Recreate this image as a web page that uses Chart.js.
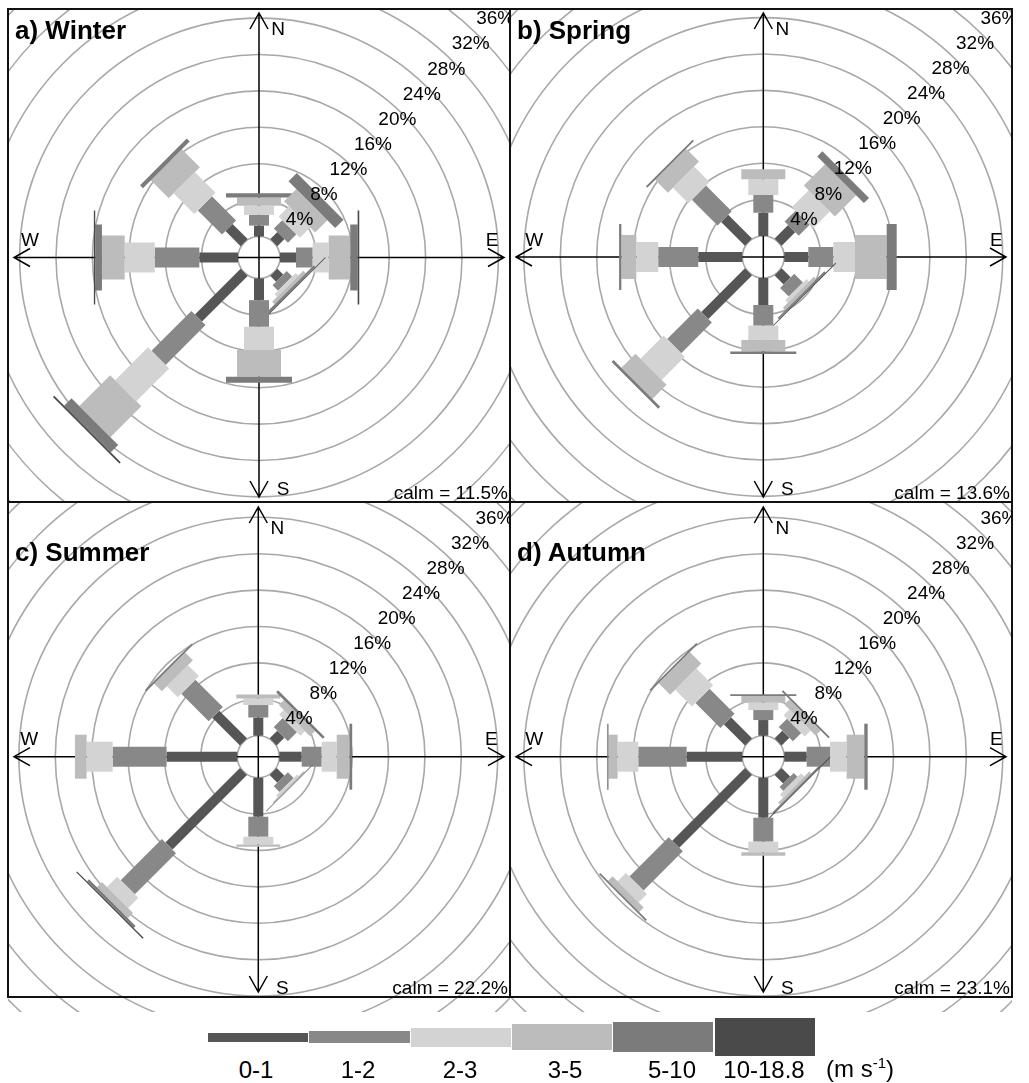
<!DOCTYPE html>
<html>
<head>
<meta charset="utf-8">
<script src="https://cdn.jsdelivr.net/npm/chart.js@4.4.1/dist/chart.umd.min.js"></script>
<style>
  body { margin: 0; background: #fff; }
  #page { position: relative; width: 1029px; height: 1083px; overflow: hidden;
          font-family: 'Liberation Sans', Arial, sans-serif; color: #000; }
  canvas { position: absolute; }
  .title { position: absolute; font-weight: bold; font-size: 26px; line-height: 1; white-space: nowrap; }
  .calm { position: absolute; font-size: 19px; line-height: 1; white-space: nowrap; transform: translate(-100%, -50%); }
  .rule { position: absolute; background: #111; }
  .key { position: absolute; }
  .keylab { position: absolute; font-size: 24px; line-height: 1; white-space: nowrap; transform: translate(-50%, -50%); }
</style>
</head>
<body>
<div id="page"></div>
<script>
// speed classes (m/s) and directions, clockwise from north
const speedClasses = ['0-1', '1-2', '2-3', '3-5', '5-10', '10-18.8'];
const directions = ['N', 'NE', 'E', 'SE', 'S', 'SW', 'W', 'NW'];
const ringTicks = [4, 8, 12, 16, 20, 24, 28, 32, 36];
const seasons = ['a) Winter', 'b) Spring', 'c) Summer', 'd) Autumn'];
const calmPct = [11.5, 13.6, 22.2, 23.1];

// frequency (%) per direction, one value per speed class
const winter = [
  [1.2, 1.18, 0.99, 0.92, 0.47, 0],
  [1.1, 1.3, 1.6, 1.9, 1.3, 0],
  [1.76, 1.83, 1.76, 2.37, 0.81, 0.18],
  [0.9, 0.85, 0.4, 0.4, 0.25, 0.1],
  [2.38, 2.93, 2.56, 2.93, 0.66, 0],
  [7.1, 6.2, 5.1, 4.8, 1.15, 0.2],
  [4.25, 4.9, 3.3, 2.5, 0.74, 0.15],
  [2.35, 3.75, 3.2, 2.8, 0.45, 0],
];
const spring = [
  [2.56, 1.95, 1.73, 1.1, 0, 0],
  [2.1, 1.7, 2.6, 3.3, 0.8, 0],
  [2.64, 2.75, 2.38, 3.48, 1.1, 0],
  [1.4, 1.35, 0.4, 0.4, 0.2, 0.1],
  [2.97, 2.27, 1.57, 1.28, 0.25, 0],
  [6.78, 4.76, 3.6, 2.2, 0.3, 0],
  [4.84, 4.4, 2.4, 1.65, 0.25, 0],
  [3.7, 4.0, 2.4, 2.0, 0.2, 0],
];
const summer = [
  [2.0, 1.37, 0.73, 0.44, 0, 0],
  [1.19, 1.4, 0.7, 0.8, 0.3, 0],
  [2.46, 2.2, 1.65, 1.4, 0.3, 0],
  [1.19, 0.9, 0.25, 0.15, 0.1, 0],
  [4.29, 2.2, 0.85, 0.25, 0, 0],
  [11.58, 6.4, 1.6, 0.8, 0.3, 0.15],
  [7.77, 5.93, 2.86, 1.28, 0, 0],
  [4.3, 4.27, 1.7, 1.2, 0.2, 0],
];
const autumn = [
  [1.72, 1.1, 0.8, 0.73, 0.2, 0],
  [1.19, 1.3, 0.9, 0.8, 0.2, 0],
  [2.46, 2.56, 1.83, 1.94, 0.37, 0],
  [1.32, 0.6, 0.5, 0.3, 0.15, 0.1],
  [4.4, 2.63, 1.17, 0.37, 0, 0],
  [11.3, 6.1, 1.3, 0.7, 0.2, 0],
  [6.12, 5.31, 2.27, 1.0, 0.15, 0],
  [3.26, 3.88, 2.6, 1.8, 0.2, 0],
];

// styling
const PX = 9.1;        // pixels per 1 %
const CALM_R = 21;     // calm circle radius, px
const barWidths = [10, 20, 30, 44, 66, 94];
const colors = ['#565656', '#888888', '#d3d3d3', '#bcbcbc', '#7b7b7b', '#4a4a4a'];
const font = "'Liberation Sans', Arial, sans-serif";

const boxes = [
  { left: 8, top: 8, right: 510, bottom: 502, cx: 259, cy: 257.5, extra: 0 },
  { left: 510, top: 8, right: 1012, bottom: 502, cx: 763.3, cy: 257, extra: 0 },
  { left: 8, top: 502, right: 510, bottom: 997, cx: 258.3, cy: 756.7, extra: 15 },
  { left: 510, top: 502, right: 1012, bottom: 997, cx: 763.3, cy: 756.7, extra: 15 },
];

const rosePlugin = {
  id: 'rose',
  beforeDatasetsDraw(chart, args, opts) {
    const { ctx, scales: { x, y } } = chart;
    const unit = x.getPixelForValue(1) - x.getPixelForValue(0);
    const c0 = CALM_R / unit;
    const cx = x.getPixelForValue(0), cy = y.getPixelForValue(0);
    const w = opts.box.right - opts.box.left, h = opts.box.bottom - opts.box.top;
    ctx.save();

    // rings
    ctx.strokeStyle = '#a8a8a8';
    ctx.lineWidth = 1.6;
    for (let p = 4; p <= 44; p += 4) {
      ctx.beginPath();
      ctx.arc(cx, cy, (c0 + p) * unit, 0, Math.PI * 2);
      ctx.stroke();
    }
    // calm circle
    ctx.beginPath();
    ctx.arc(cx, cy, CALM_R, 0, Math.PI * 2);
    ctx.fillStyle = '#fff';
    ctx.fill();
    ctx.stroke();

    // compass axes with open arrow heads
    ctx.strokeStyle = '#000';
    ctx.lineWidth = 1.5;
    const tips = [[6, cy, 1, 0], [w - 6, cy, -1, 0], [cx, 5, 0, 1], [cx, h - 5, 0, -1]];
    ctx.beginPath();
    ctx.moveTo(6, cy); ctx.lineTo(w - 6, cy);
    ctx.moveTo(cx, 5); ctx.lineTo(cx, h - 5);
    tips.forEach(([tx, ty, dx, dy]) => {
      ctx.moveTo(tx + dx * 16 - dy * 9, ty + dy * 16 + dx * 9);
      ctx.lineTo(tx, ty);
      ctx.lineTo(tx + dx * 16 + dy * 9, ty + dy * 16 - dx * 9);
    });
    ctx.stroke();

    // stacked bars, one per direction
    opts.values.forEach((row, d) => {
      const a = Math.PI / 2 - d * Math.PI / 4;
      const ca = Math.cos(a), sa = Math.sin(a);
      let r = c0;
      row.forEach((f, j) => {
        if (f <= 0) return;
        const hw = barWidths[j] / 2 / unit;
        const r2 = r + f;
        const pts = [[r, -hw], [r2, -hw], [r2, hw], [r, hw]].map(([rr, s]) =>
          [x.getPixelForValue(rr * ca - s * sa), y.getPixelForValue(rr * sa + s * ca)]);
        ctx.beginPath();
        pts.forEach(([px, py], i) => (i ? ctx.lineTo(px, py) : ctx.moveTo(px, py)));
        ctx.closePath();
        ctx.fillStyle = colors[j];
        ctx.fill();
        r = r2;
      });
    });
    ctx.restore();
  },
  afterDatasetsDraw(chart, args, opts) {
    const { ctx, scales: { x, y } } = chart;
    const unit = x.getPixelForValue(1) - x.getPixelForValue(0);
    const c0 = CALM_R / unit;
    const cx = x.getPixelForValue(0), cy = y.getPixelForValue(0);
    ctx.save();
    ctx.fillStyle = '#000';
    ctx.font = '19px ' + font;
    ctx.textAlign = 'center';
    ctx.textBaseline = 'middle';
    ringTicks.forEach(p => {
      const R = (c0 + p) * unit * Math.SQRT1_2;
      ctx.fillText(p + '%', cx + 0.95 * R + 2, cy - (0.975 * R - 2));
    });
    ctx.fillText('N', cx + 19, cy - 227.5);
    ctx.fillText('S', cx + 24, cy + 232.5);
    ctx.fillText('W', cx - 229, cy - 16.5);
    ctx.fillText('E', cx + 233, cy - 16.5);
    ctx.restore();
  }
};

const page = document.getElementById('page');
[winter, spring, summer, autumn].forEach((values, i) => {
  const b = boxes[i];
  const cv = document.createElement('canvas');
  const cw = b.right - b.left, ch = b.bottom - b.top + b.extra;
  cv.width = cw; cv.height = ch;
  cv.style.left = b.left + 'px'; cv.style.top = b.top + 'px';
  cv.style.width = cw + 'px'; cv.style.height = ch + 'px';
  page.appendChild(cv);
  new Chart(cv, {
    type: 'scatter',
    data: { datasets: [] },
    options: {
      responsive: false,
      animation: false,
      layout: { padding: 0 },
      plugins: {
        legend: { display: false },
        tooltip: { enabled: false },
        rose: { values, box: b },
      },
      scales: {
        x: { type: 'linear', display: false, min: (b.left - b.cx) / PX, max: (b.right - b.cx) / PX },
        y: { type: 'linear', display: false, min: -(b.bottom + b.extra - b.cy) / PX, max: (b.cy - b.top) / PX },
      },
    },
    plugins: [rosePlugin],
  });

  const t = document.createElement('div');
  t.className = 'title';
  t.textContent = seasons[i];
  t.style.left = (b.left + 7) + 'px';
  t.style.top = (b.top + (i < 2 ? 9 : 37)) + 'px';
  page.appendChild(t);

  const c = document.createElement('div');
  c.className = 'calm';
  c.textContent = 'calm = ' + calmPct[i] + '%';
  c.style.left = (b.right - 2) + 'px';
  c.style.top = (b.bottom - 10) + 'px';
  page.appendChild(c);
});

// panel frame
[[8, 8, 1005, 2], [8, 501, 1005, 2], [8, 996, 1005, 2],
 [7, 8, 2, 990], [509, 8, 2, 990], [1011, 8, 2, 990]].forEach(([l, t, w, h]) => {
  const d = document.createElement('div');
  d.className = 'rule';
  Object.assign(d.style, { left: l + 'px', top: t + 'px', width: w + 'px', height: h + 'px' });
  page.appendChild(d);
});

// speed key
const keyHeights = [9, 12.7, 19, 25.4, 30.2, 37.8];
const keyLabelX = [256, 358, 460, 565, 672, 764];
speedClasses.forEach((s, i) => {
  const k = document.createElement('div');
  k.className = 'key';
  Object.assign(k.style, {
    left: (208 + i * 101.3) + 'px', width: '100.3px',
    top: (1037 - keyHeights[i] / 2) + 'px', height: keyHeights[i] + 'px',
    background: colors[i],
  });
  page.appendChild(k);
  const l = document.createElement('div');
  l.className = 'keylab';
  l.textContent = s;
  l.style.left = keyLabelX[i] + 'px';
  l.style.top = '1070px';
  page.appendChild(l);
});
const u = document.createElement('div');
u.className = 'keylab';
u.innerHTML = '(m s<sup style="font-size:15px">-1</sup>)';
u.style.left = '860px';
u.style.top = '1068px';
page.appendChild(u);
</script>
</body>
</html>
